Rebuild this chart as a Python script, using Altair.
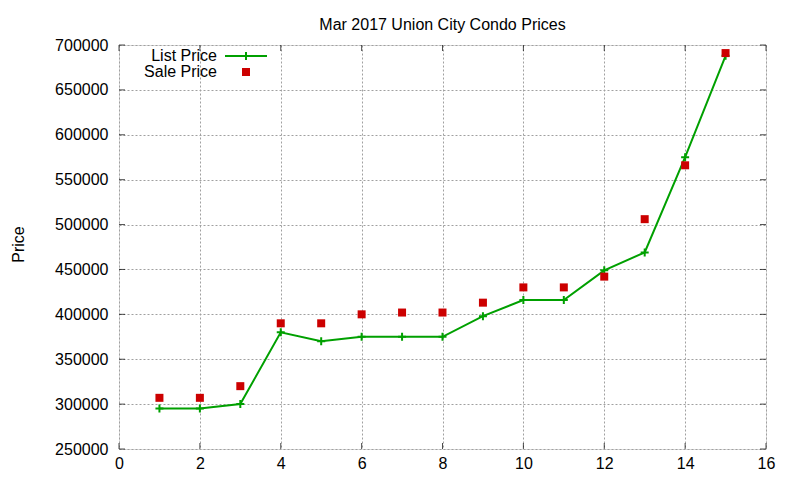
import altair as alt
import pandas as pd

months = list(range(1, 16))
list_price = [295000, 295000, 300000, 380000, 370000, 375000, 375000, 375000,
              398000, 416000, 416000, 449000, 469000, 575000, 688000]
sale_price = [307000, 307000, 320000, 390000, 390000, 400000, 402000, 402000,
              413000, 430000, 430000, 442000, 506000, 566000, 691000]
x_ticks = list(range(0, 17, 2))
y_ticks = list(range(250000, 700001, 50000))

TITLE = "Mar 2017 Union City Condo Prices"
FONT = "Liberation Sans"
GREEN = "#00a000"
RED = "#cc0000"
W, H = 647, 404

df = pd.DataFrame({"x": months, "list": list_price, "sale": sale_price})
xt = pd.DataFrame({"v": x_ticks})
yt = pd.DataFrame({"v": y_ticks})

xscale = alt.Scale(domain=[0, 16], nice=False, zero=False)
yscale = alt.Scale(domain=[250000, 700000], nice=False, zero=False)

xaxis = alt.Axis(values=x_ticks, format="d", title=None, grid=True, gridColor="#a0a0a0",
                 gridDash=[2, 2], gridWidth=1, ticks=False, tickSize=0, domain=False,
                 labelFont=FONT, labelFontSize=16, labelColor="black", labelPadding=6,
                 labelFlush=False)
yaxis = alt.Axis(values=y_ticks, format="d", title="Price", grid=True, gridColor="#a0a0a0",
                 gridDash=[2, 2], gridWidth=1, ticks=False, tickSize=0, domain=False,
                 labelFont=FONT, labelFontSize=16, labelColor="black", labelPadding=11,
                 titleFont=FONT, titleFontSize=16, titleFontWeight="normal", titleColor="black",
                 titleX=-96, titleY=199, titleAngle=-90, titleBaseline="alphabetic",
                 titleAlign="center", labelFlush=False)

base = alt.Chart(df)
line = base.mark_line(color=GREEN, strokeWidth=2).encode(
    x=alt.X("x:Q", scale=xscale, axis=xaxis),
    y=alt.Y("list:Q", scale=yscale, axis=yaxis),
)
cross = "M-1,0L1,0M0,-1L0,1"
pts = base.mark_point(shape=cross, size=64, color=GREEN, strokeWidth=2, filled=False, opacity=1).encode(
    x="x:Q", y="list:Q")
sq = base.mark_point(shape="square", size=64, color=RED, filled=True, opacity=1).encode(
    x="x:Q", y="sale:Q")

# inside ticks (gnuplot style) on all four sides
lt = alt.Chart(yt).mark_tick(orient="horizontal", size=6, thickness=1, color="black").encode(
    y=alt.Y("v:Q", scale=yscale), x=alt.value(3))
rt = alt.Chart(yt).mark_tick(orient="horizontal", size=6, thickness=1, color="black").encode(
    y=alt.Y("v:Q", scale=yscale), x=alt.value(W - 3))
bt = alt.Chart(xt).mark_tick(orient="vertical", size=6, thickness=1, color="black").encode(
    x=alt.X("v:Q", scale=xscale), y=alt.value(H - 3))
tt = alt.Chart(xt).mark_tick(orient="vertical", size=6, thickness=1, color="black").encode(
    x=alt.X("v:Q", scale=xscale), y=alt.value(3))

# title
ttl = alt.Chart(pd.DataFrame({"t": [TITLE]})).mark_text(
    align="center", baseline="alphabetic", font=FONT, fontSize=16, color="black").encode(
    text="t:N", x=alt.value(W / 2), y=alt.value(-15))

# legend (top-left, inside)
leg1 = pd.DataFrame({"label": ["List Price"]})
leg2 = pd.DataFrame({"label": ["Sale Price"]})
t1 = alt.Chart(leg1).mark_text(align="right", baseline="middle", font=FONT, fontSize=16,
                                color="black").encode(text="label:N", x=alt.value(98), y=alt.value(11))
t2 = alt.Chart(leg2).mark_text(align="right", baseline="middle", font=FONT, fontSize=16,
                                color="black").encode(text="label:N", x=alt.value(98), y=alt.value(27))
l1 = alt.Chart(leg1).mark_rule(color=GREEN, strokeWidth=2).encode(
    x=alt.value(106), x2=alt.value(148), y=alt.value(11))
p1 = alt.Chart(leg1).mark_point(shape=cross, size=64, color=GREEN, strokeWidth=2, filled=False,
                                opacity=1).encode(x=alt.value(127), y=alt.value(11))
s2 = alt.Chart(leg2).mark_point(shape="square", size=64, color=RED, filled=True,
                                opacity=1).encode(x=alt.value(127), y=alt.value(27))

chart = alt.layer(line, pts, sq, lt, rt, bt, tt, ttl, t1, t2, l1, p1, s2).properties(
    width=W, height=H,
    autosize=alt.AutoSizeParams(type="none"),
    padding={"left": 111, "top": 37, "right": 26, "bottom": 23},
).configure_view(stroke="black", strokeWidth=1).configure(background="white")

chart.save("out.html", embed_options={"renderer": "svg", "actions": False})
